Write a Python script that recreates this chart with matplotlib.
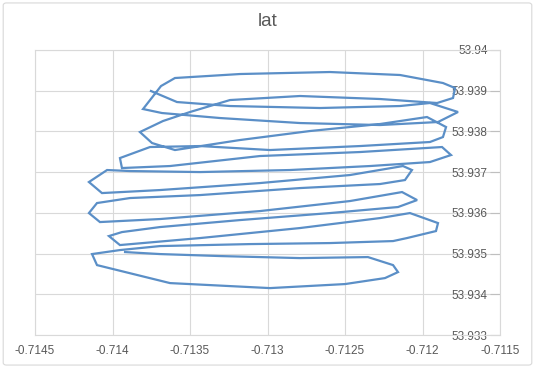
import matplotlib
matplotlib.use("Agg")
import matplotlib.pyplot as plt
from matplotlib.patches import FancyBboxPatch

# track points (longitude, latitude) in path order
lon = [-0.713752, -0.713584, -0.713242, -0.712661, -0.712145, -0.711952, -0.711771,
       -0.711900, -0.712274, -0.712790, -0.713306, -0.713681, -0.713803,
       -0.713687, -0.713597, -0.713177, -0.712597, -0.712145, -0.711868, -0.711790,
       -0.711803, -0.711906, -0.712274, -0.712790, -0.713242, -0.713500, -0.713674, -0.713823,
       -0.713745, -0.713597, -0.713177, -0.712726, -0.712274, -0.711971, -0.711848,
       -0.711868, -0.711952, -0.712403, -0.712984, -0.713435, -0.713758, -0.713952,
       -0.713939, -0.713629, -0.713048, -0.712403, -0.711874, -0.711816,
       -0.711952, -0.712339, -0.712855, -0.713435, -0.713887, -0.714035, -0.714152,
       -0.714068, -0.713694, -0.713048, -0.712468, -0.712126, -0.712068,
       -0.712113, -0.712274, -0.712790, -0.713435, -0.713887, -0.714100, -0.714152,
       -0.714081, -0.713694, -0.713048, -0.712468, -0.712132, -0.712035,
       -0.712158, -0.712597, -0.713177, -0.713694, -0.713939, -0.714023,
       -0.713952, -0.713435, -0.712790, -0.712274, -0.712081, -0.711900,
       -0.711913, -0.712100, -0.712190, -0.712597, -0.713113, -0.713694, -0.713952, -0.714132,
       -0.714100, -0.713629, -0.712984, -0.712500, -0.712242, -0.712158,
       -0.712190, -0.712352, -0.712790, -0.713306, -0.713694, -0.713919]
lat = [53.938993, 53.938722, 53.938624, 53.938575, 53.938624, 53.938698, 53.938477,
       53.938231, 53.938157, 53.938206, 53.938329, 53.938452, 53.938550,
       53.939115, 53.939312, 53.939410, 53.939459, 53.939386, 53.939189, 53.939066,
       53.938821, 53.938698, 53.938796, 53.938870, 53.938771, 53.938477, 53.938256, 53.937985,
       53.937715, 53.937543, 53.937789, 53.938010, 53.938182, 53.938354, 53.938108,
       53.937862, 53.937740, 53.937641, 53.937543, 53.937641, 53.937617, 53.937346,
       53.937101, 53.937150, 53.937396, 53.937494, 53.937617, 53.937420,
       53.937248, 53.937150, 53.937052, 53.937002, 53.937027, 53.937052, 53.936757,
       53.936486, 53.936560, 53.936732, 53.936929, 53.937150, 53.937052,
       53.936806, 53.936708, 53.936609, 53.936437, 53.936364, 53.936241, 53.935995,
       53.935774, 53.935848, 53.936044, 53.936290, 53.936511, 53.936314,
       53.936143, 53.935995, 53.935823, 53.935651, 53.935528, 53.935430,
       53.935209, 53.935381, 53.935627, 53.935872, 53.935995, 53.935749,
       53.935553, 53.935381, 53.935307, 53.935258, 53.935233, 53.935184, 53.935086, 53.934988,
       53.934717, 53.934275, 53.934152, 53.934251, 53.934398, 53.934545,
       53.934717, 53.934914, 53.934889, 53.934939, 53.934988, 53.935037]

x_ticks = [-0.7145, -0.714, -0.7135, -0.713, -0.7125, -0.712, -0.7115]
y_ticks = [53.933, 53.934, 53.935, 53.936, 53.937, 53.938, 53.939, 53.94]
x_labels = ["-0.7145", "-0.714", "-0.7135", "-0.713", "-0.7125", "-0.712", "-0.7115"]
y_labels = ["53.933", "53.934", "53.935", "53.936", "53.937", "53.938", "53.939", "53.94"]

plt.rcParams["font.family"] = ["Liberation Sans", "DejaVu Sans"]
txt = "#595959"
grid = "#d9d9d9"

fig = plt.figure(figsize=(5.35, 3.68), dpi=100)
fig.patch.set_facecolor("white")

# outer chart border
fig.patches.append(FancyBboxPatch((0.006, 0.008), 0.988, 0.984, boxstyle="round,pad=0,rounding_size=0.006",
                                  transform=fig.transFigure, facecolor="none",
                                  edgecolor=grid, linewidth=0.8))

ax = fig.add_axes([35 / 535, 1 - 335 / 368, 465 / 535, 285 / 368])
ax.plot(lon, lat, color="#5b8fc7", linewidth=1.6, solid_joinstyle="miter")

ax.set_xlim(-0.7145, -0.7115)
ax.set_ylim(53.933, 53.94)
ax.set_xticks(x_ticks)
ax.set_xticklabels(x_labels)
ax.set_yticks(y_ticks)
ax.set_yticklabels(y_labels)
ax.grid(True, color=grid, linewidth=0.8)
ax.set_axisbelow(True)
for s in ax.spines.values():
    s.set_color(grid)
    s.set_linewidth(0.8)

ax.tick_params(axis="x", length=0, pad=7, labelsize=8.5, labelcolor=txt)
ax.yaxis.tick_right()
ax.tick_params(axis="y", direction="in", length=7, color="#bfbfbf",
               pad=-9, labelsize=8.5, labelcolor=txt)
for lbl in ax.get_yticklabels():
    lbl.set_horizontalalignment("right")

fig.text(267.5 / 535, 1 - 22 / 368, "lat", ha="center", va="center",
         fontsize=13.5, color=txt)

fig.savefig("out.png", dpi=100, facecolor="white")
